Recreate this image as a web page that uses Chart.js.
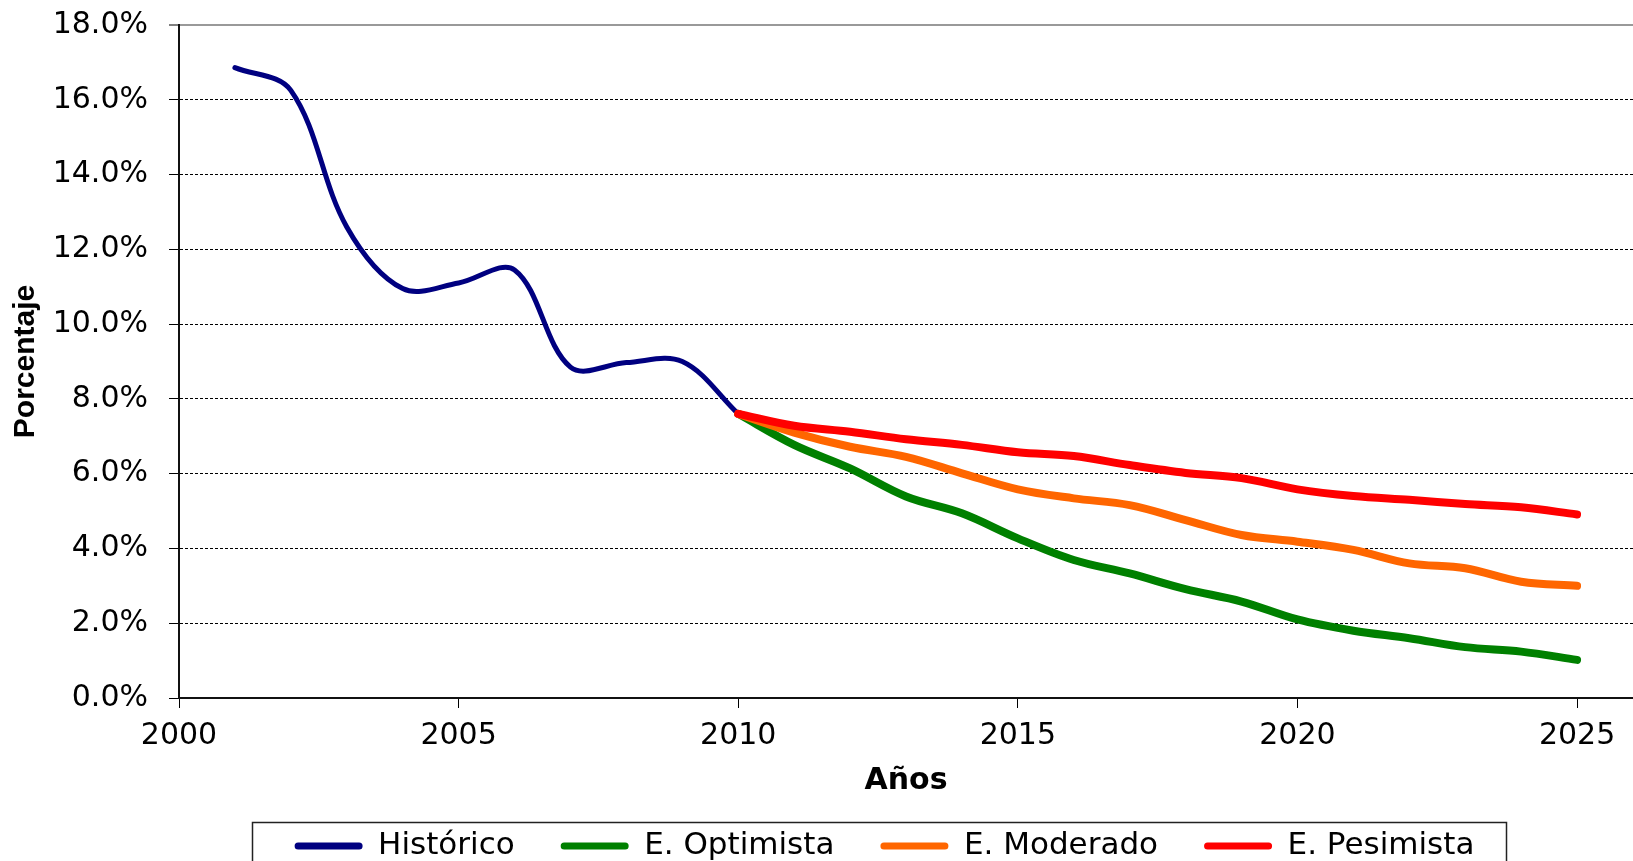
<!DOCTYPE html>
<html>
<head>
<meta charset="utf-8">
<script src="https://cdn.jsdelivr.net/npm/chart.js@4/dist/chart.umd.min.js"></script>
<style>
  html, body { margin: 0; padding: 0; background: #fff; }
  #wrap { width: 1633px; height: 861px; position: relative; }
</style>
</head>
<body>
<div id="wrap"><canvas id="c"></canvas></div>
<script>
// ---- data (percent) ----
const historicYears = [2001, 2002, 2003, 2004, 2005, 2006, 2007, 2008, 2009, 2010];
const historicValues = [16.86, 16.25, 12.6, 10.95, 11.1, 11.45, 8.85, 8.97, 9.0, 7.6];

const projectionYears = [2010, 2011, 2012, 2013, 2014, 2015, 2016, 2017, 2018, 2019, 2020, 2021, 2022, 2023, 2024, 2025];
const optimista = [7.6, 6.77, 6.14, 5.39, 4.94, 4.27, 3.69, 3.33, 2.91, 2.58, 2.10, 1.80, 1.60, 1.36, 1.24, 1.02];
const moderado  = [7.6, 7.10, 6.72, 6.45, 6.01, 5.58, 5.34, 5.16, 4.76, 4.36, 4.18, 3.96, 3.60, 3.47, 3.11, 3.00];
const pesimista = [7.6, 7.28, 7.12, 6.92, 6.77, 6.57, 6.47, 6.23, 6.02, 5.88, 5.58, 5.40, 5.30, 5.19, 5.10, 4.91];

const seriesNames = ['Histórico', 'E. Optimista', 'E. Moderado', 'E. Pesimista'];
const seriesColors = ['#000080', '#008000', '#FF6600', '#FF0000'];

const yTicks = { min: 0, max: 18, step: 2 };
const xTicks = { min: 2000, max: 2026, step: 5 };

const toPoints = (xs, ys) => xs.map((x, i) => ({ x: x, y: ys[i] }));

const FONT = 'DejaVu Sans';
const LEGEND_FONT = 31;

const legendFrame = {
  id: 'legendFrame',
  afterLayout(chart) {
    const lg = chart.legend;
    const dx = 68;
    const pad = lg.options.labels.padding;
    const newTop = 846 - LEGEND_FONT / 2 - pad;
    const dy = newTop - lg.top;
    lg.left += dx; lg.right += dx;
    lg.top += dy;
    lg.bottom = chart.height + 40;
  },
  afterDraw(chart) {
    const lg = chart.legend;
    const pad = lg.options.labels.padding;
    const lw = lg.lineWidths[0];
    const x0 = (lg.left + pad + lg.right - lw) / 2;
    const x1 = x0 + lw - pad;
    const top = 822;
    const ctx = chart.ctx;
    ctx.save();
    ctx.strokeStyle = '#222';
    ctx.lineWidth = 1.5;
    ctx.strokeRect(Math.round(x0 - 43) + 0.5, top + 0.5, Math.round((x1 + 31) - (x0 - 43)), 80);
    ctx.restore();
  }
};

const isTop = (c) => c && c.tick && Math.abs(c.tick.value - yTicks.max) < 1e-9;

const datasets = [
  { label: seriesNames[0], data: toPoints(historicYears, historicValues), borderColor: seriesColors[0], backgroundColor: seriesColors[0], borderWidth: 5, order: 3 },
  { label: seriesNames[1], data: toPoints(projectionYears, optimista), borderColor: seriesColors[1], backgroundColor: seriesColors[1], borderWidth: 8, order: 2 },
  { label: seriesNames[2], data: toPoints(projectionYears, moderado), borderColor: seriesColors[2], backgroundColor: seriesColors[2], borderWidth: 8, order: 1 },
  { label: seriesNames[3], data: toPoints(projectionYears, pesimista), borderColor: seriesColors[3], backgroundColor: seriesColors[3], borderWidth: 8, order: 0 }
];
datasets.forEach(d => {
  d.fill = false; d.pointRadius = 0; d.pointHoverRadius = 0; d.tension = 0.35;
  d.borderCapStyle = 'round'; d.borderJoinStyle = 'round';
});

new Chart(document.getElementById('c'), {
  type: 'line',
  data: { datasets: datasets },
  plugins: [legendFrame],
  options: {
    responsive: true,
    maintainAspectRatio: false,
    animation: false,
    devicePixelRatio: 1,
    layout: { padding: { left: 0, right: 0, top: 25, bottom: 0 } },
    plugins: {
      tooltip: { enabled: false },
      legend: {
        position: 'bottom',
        maxHeight: 63,
        labels: {
          font: { family: FONT, size: LEGEND_FONT },
          color: '#000',
          boxWidth: 68,
          boxHeight: 7,
          useBorderRadius: true,
          borderRadius: 3.5,
          padding: 46,
          sort: (a, b) => a.datasetIndex - b.datasetIndex,
          generateLabels: (chart) => Chart.defaults.plugins.legend.labels.generateLabels(chart)
            .map(l => Object.assign({}, l, { lineWidth: 0, fillStyle: l.strokeStyle }))
        }
      }
    },
    scales: {
      x: {
        type: 'linear',
        min: xTicks.min,
        max: xTicks.max,
        afterFit: (s) => { s.height = 100; },
        ticks: {
          stepSize: xTicks.step,
          includeBounds: false,
          autoSkip: false,
          maxRotation: 0,
          padding: 10,
          color: '#000',
          font: { family: FONT, size: 30 },
          callback: (v) => String(v)
        },
        grid: { drawOnChartArea: false, drawTicks: true, tickLength: 10, tickColor: '#000', tickWidth: 1 },
        border: { display: true, color: '#111', width: 2 },
        title: {
          display: true,
          text: 'Años',
          color: '#000',
          font: { family: FONT, size: 30, weight: 'bold' },
          padding: { top: 0, bottom: -1 }
        }
      },
      y: {
        type: 'linear',
        min: yTicks.min,
        max: yTicks.max,
        afterFit: (s) => { s.width = 179; s.paddingTop = 0; s.paddingBottom = 0; },
        ticks: {
          stepSize: yTicks.step,
          autoSkip: false,
          padding: 21,
          color: '#000',
          font: { family: FONT, size: 30 },
          callback: (v) => v.toFixed(1) + '%'
        },
        grid: {
          drawTicks: true,
          tickLength: 10,
          tickColor: '#000',
          tickWidth: 1,
          color: (c) => isTop(c) ? '#999' : '#000',
          lineWidth: (c) => isTop(c) ? 2 : 1
        },
        border: {
          display: true, color: '#111', width: 2,
          dash: (c) => isTop(c) ? [] : [3, 2]
        },
        title: {
          display: true,
          text: 'Porcentaje',
          color: '#000',
          font: { family: 'Liberation Sans', size: 30, weight: 'bold' },
          padding: { top: 8, bottom: 0 }
        }
      }
    }
  }
});
</script>
</body>
</html>
